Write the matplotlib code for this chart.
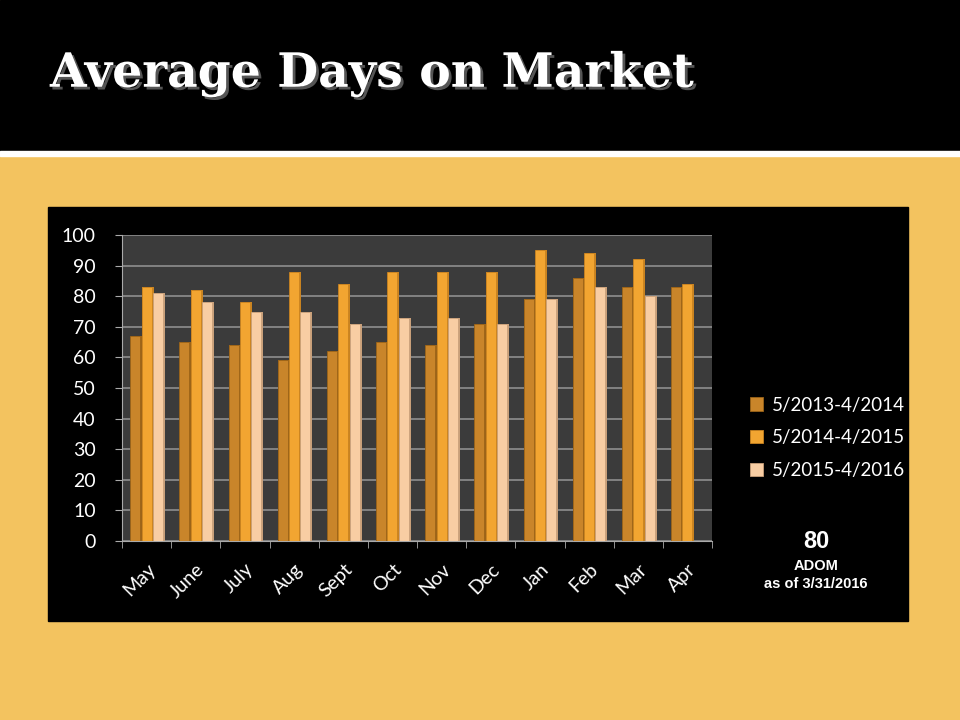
import matplotlib.pyplot as plt
import matplotlib.patches as mpatches
import matplotlib.patheffects as pe
import numpy as np

# Data
months = ["May", "June", "July", "Aug", "Sept", "Oct",
          "Nov", "Dec", "Jan", "Feb", "Mar", "Apr"]
series_labels = ["5/2013-4/2014", "5/2014-4/2015", "5/2015-4/2016"]
dom_2013_14 = [67, 65, 64, 59, 62, 65, 64, 71, 79, 86, 83, 83]
dom_2014_15 = [83, 82, 78, 88, 84, 88, 88, 88, 95, 94, 92, 84]
dom_2015_16 = [81, 78, 75, 75, 71, 73, 73, 71, 79, 83, 80, np.nan]
yticks = list(range(0, 101, 10))

BAR_COLORS = ["#C9852A", "#F2A531", "#F8CDA3"]
SIDE_COLORS = ["#9C6418", "#C98320", "#C9A07A"]
BG_YELLOW = "#F3C35F"

fig = plt.figure(figsize=(9.6, 7.2), dpi=100)
fig.patch.set_facecolor(BG_YELLOW)

# header band + white rule
fig.add_artist(mpatches.Rectangle((0, 1 - 151 / 720), 1, 151 / 720,
                                  transform=fig.transFigure, color="black", zorder=0))
fig.add_artist(mpatches.Rectangle((0, 1 - 156 / 720), 1, 5 / 720,
                                  transform=fig.transFigure, color="white", zorder=1))
# black chart panel
fig.add_artist(mpatches.Rectangle((48 / 960, 1 - 621 / 720), 860 / 960, 414 / 720,
                                  transform=fig.transFigure, color="black", zorder=0))

# title with drop shadow
fig.text(50 / 960, 1 - 74 / 720, "Average Days on Market",
         fontsize=34, fontweight="bold", family="DejaVu Serif",
         color="white", va="center", ha="left",
         path_effects=[pe.withSimplePatchShadow(offset=(2, -2),
                                                shadow_rgbFace="#555555", alpha=1)])

ax = fig.add_axes([122 / 960, 1 - 541 / 720, 590 / 960, 306 / 720])
ax.set_facecolor("#3b3b3b")

x = np.arange(len(months))
w = 0.23
series = [dom_2013_14, dom_2014_15, dom_2015_16]
handles = []
for i, vals in enumerate(series):
    pos = x + (i - 1) * w
    ax.bar(pos + w * 0.12, vals, w, color=SIDE_COLORS[i], zorder=2)
    b = ax.bar(pos, vals, w * 0.88, color=BAR_COLORS[i], zorder=3,
               edgecolor=SIDE_COLORS[i], linewidth=0.6, label=series_labels[i])
    handles.append(b)

ax.set_ylim(0, 100)
ax.set_xlim(-0.5, len(months) - 0.5)
ax.set_yticks(yticks)
ax.set_yticklabels([str(t) for t in yticks], family="Lato", fontsize=14, color="white")
ax.set_xticks(x)
ax.set_xticklabels(months, family="Lato", fontsize=14, color="white",
                   rotation=45, ha="right", rotation_mode="anchor")
ax.set_xticks(np.arange(len(months) + 1) - 0.5, minor=True)
ax.tick_params(axis="x", which="major", length=0, pad=14)
ax.tick_params(axis="x", which="minor", length=5, color="#aaaaaa")
ax.tick_params(axis="y", length=5, color="#aaaaaa", pad=14)
ax.grid(axis="y", color="#8f8f8f", linewidth=1.2, zorder=1)
ax.set_axisbelow(True)
for side in ["top", "right"]:
    ax.spines[side].set_visible(False)
for side in ["left", "bottom"]:
    ax.spines[side].set_color("#aaaaaa")

fig.legend(handles=handles, labels=series_labels,
           loc="center left", bbox_to_anchor=(733 / 960, 1 - 438 / 720),
           frameon=False, prop={"family": "Lato", "size": 13.5},
           labelcolor="white", handlelength=0.7, handleheight=0.7,
           labelspacing=0.85, handletextpad=0.5)

fig.text(816 / 960, 1 - 541 / 720, "80", family="Liberation Sans",
         fontweight="bold", fontsize=17, color="white", ha="center", va="center")
fig.text(816 / 960, 1 - 566 / 720, "ADOM", family="Liberation Sans",
         fontweight="bold", fontsize=10.5, color="white", ha="center", va="center")
fig.text(816 / 960, 1 - 584 / 720, "as of 3/31/2016", family="Liberation Sans",
         fontweight="bold", fontsize=10.5, color="white", ha="center", va="center")

fig.savefig("out.png", dpi=100, facecolor=fig.get_facecolor())
